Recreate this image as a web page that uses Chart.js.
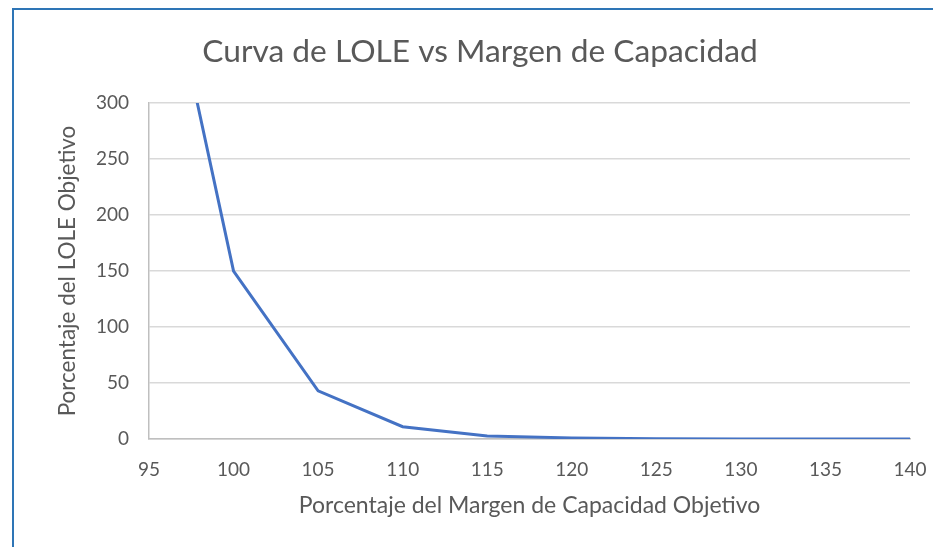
<!DOCTYPE html>
<html>
<head>
<meta charset="utf-8">
<script src="https://cdn.jsdelivr.net/npm/chart.js@4.4.0/dist/chart.umd.min.js"></script>
<style>
  body { margin: 0; background: #fff; }
  #wrap { position: absolute; left: 0; top: 0; width: 933px; height: 547px; }
  #frame { position: absolute; left: 12px; top: 8px; right: 0; bottom: 0;
           border-top: 2px solid #2e75b6; border-left: 2px solid #2e75b6; }
</style>
</head>
<body>
<div id="frame"></div>
<div id="wrap"><canvas id="myChart"></canvas></div>
<script>
// margen de capacidad (%) y LOLE (%)
var margen = [95, 100, 105, 110, 115, 120, 125, 130, 135, 140];
var lole = [500, 150, 43, 11, 2.7, 1, 0.2, 0, 0, 0];
var xTicks = [95, 100, 105, 110, 115, 120, 125, 130, 135, 140];
var yTicks = [0, 50, 100, 150, 200, 250, 300];

var gris = "#595959";
var fuente = "Lato, 'Open Sans', sans-serif";

var puntos = [];
for (var i = 0; i < margen.length; i++) {
  puntos.push({x: margen[i], y: lole[i]});
}

var ctx = document.getElementById("myChart").getContext("2d");
var chart = new Chart(ctx, {
  type: "scatter",
  data: {
    datasets: [{
      data: puntos,
      showLine: true,
      borderColor: "#4472c4",
      borderWidth: 3,
      pointRadius: 0,
      pointHoverRadius: 0,
      tension: 0
    }]
  },
  options: {
    responsive: true,
    maintainAspectRatio: false,
    animation: false,
    layout: { padding: { left: 50, right: 23, top: 0, bottom: 20 } },
    plugins: {
      legend: { display: false },
      tooltip: { enabled: false },
      title: {
        display: true,
        text: "Curva de LOLE vs Margen de Capacidad",
        color: gris,
        font: { family: fuente, size: 31.7, weight: "normal" },
        padding: { top: 33, bottom: 32 }
      }
    },
    scales: {
      x: {
        type: "linear",
        min: xTicks[0],
        max: xTicks[xTicks.length - 1],
        afterBuildTicks: function(scale) {
          scale.ticks = xTicks.map(function(v) { return {value: v}; });
        },
        afterFit: function(scale) {
          scale.height = 88;
          // the layout padding already leaves room for the end labels
          scale.paddingLeft = 0;
          scale.paddingRight = 0;
        },
        grid: { display: false, drawTicks: false },
        border: { display: true, color: "#bfbfbf", width: 1.5 },
        ticks: { color: gris, font: { family: fuente, size: 19 }, padding: 19, maxRotation: 0 },
        title: {
          display: true,
          text: "Porcentaje del Margen de Capacidad Objetivo",
          color: gris,
          font: { family: fuente, size: 23 },
          padding: { top: 0, bottom: 7.5 }
        }
      },
      y: {
        min: yTicks[0],
        max: yTicks[yTicks.length - 1],
        afterBuildTicks: function(scale) {
          scale.ticks = yTicks.map(function(v) { return {value: v}; });
        },
        afterFit: function(scale) { scale.width = 99; },
        grid: { color: "#d9d9d9", lineWidth: 1.5, drawTicks: false },
        border: { display: true, color: "#bfbfbf", width: 1.5 },
        ticks: { color: gris, font: { family: fuente, size: 19 }, padding: 20 },
        title: {
          display: true,
          text: "Porcentaje del LOLE Objetivo",
          color: gris,
          font: { family: fuente, size: 22.5 },
          padding: { top: 4, bottom: 0 }
        }
      }
    }
  }
});
</script>
</body>
</html>
